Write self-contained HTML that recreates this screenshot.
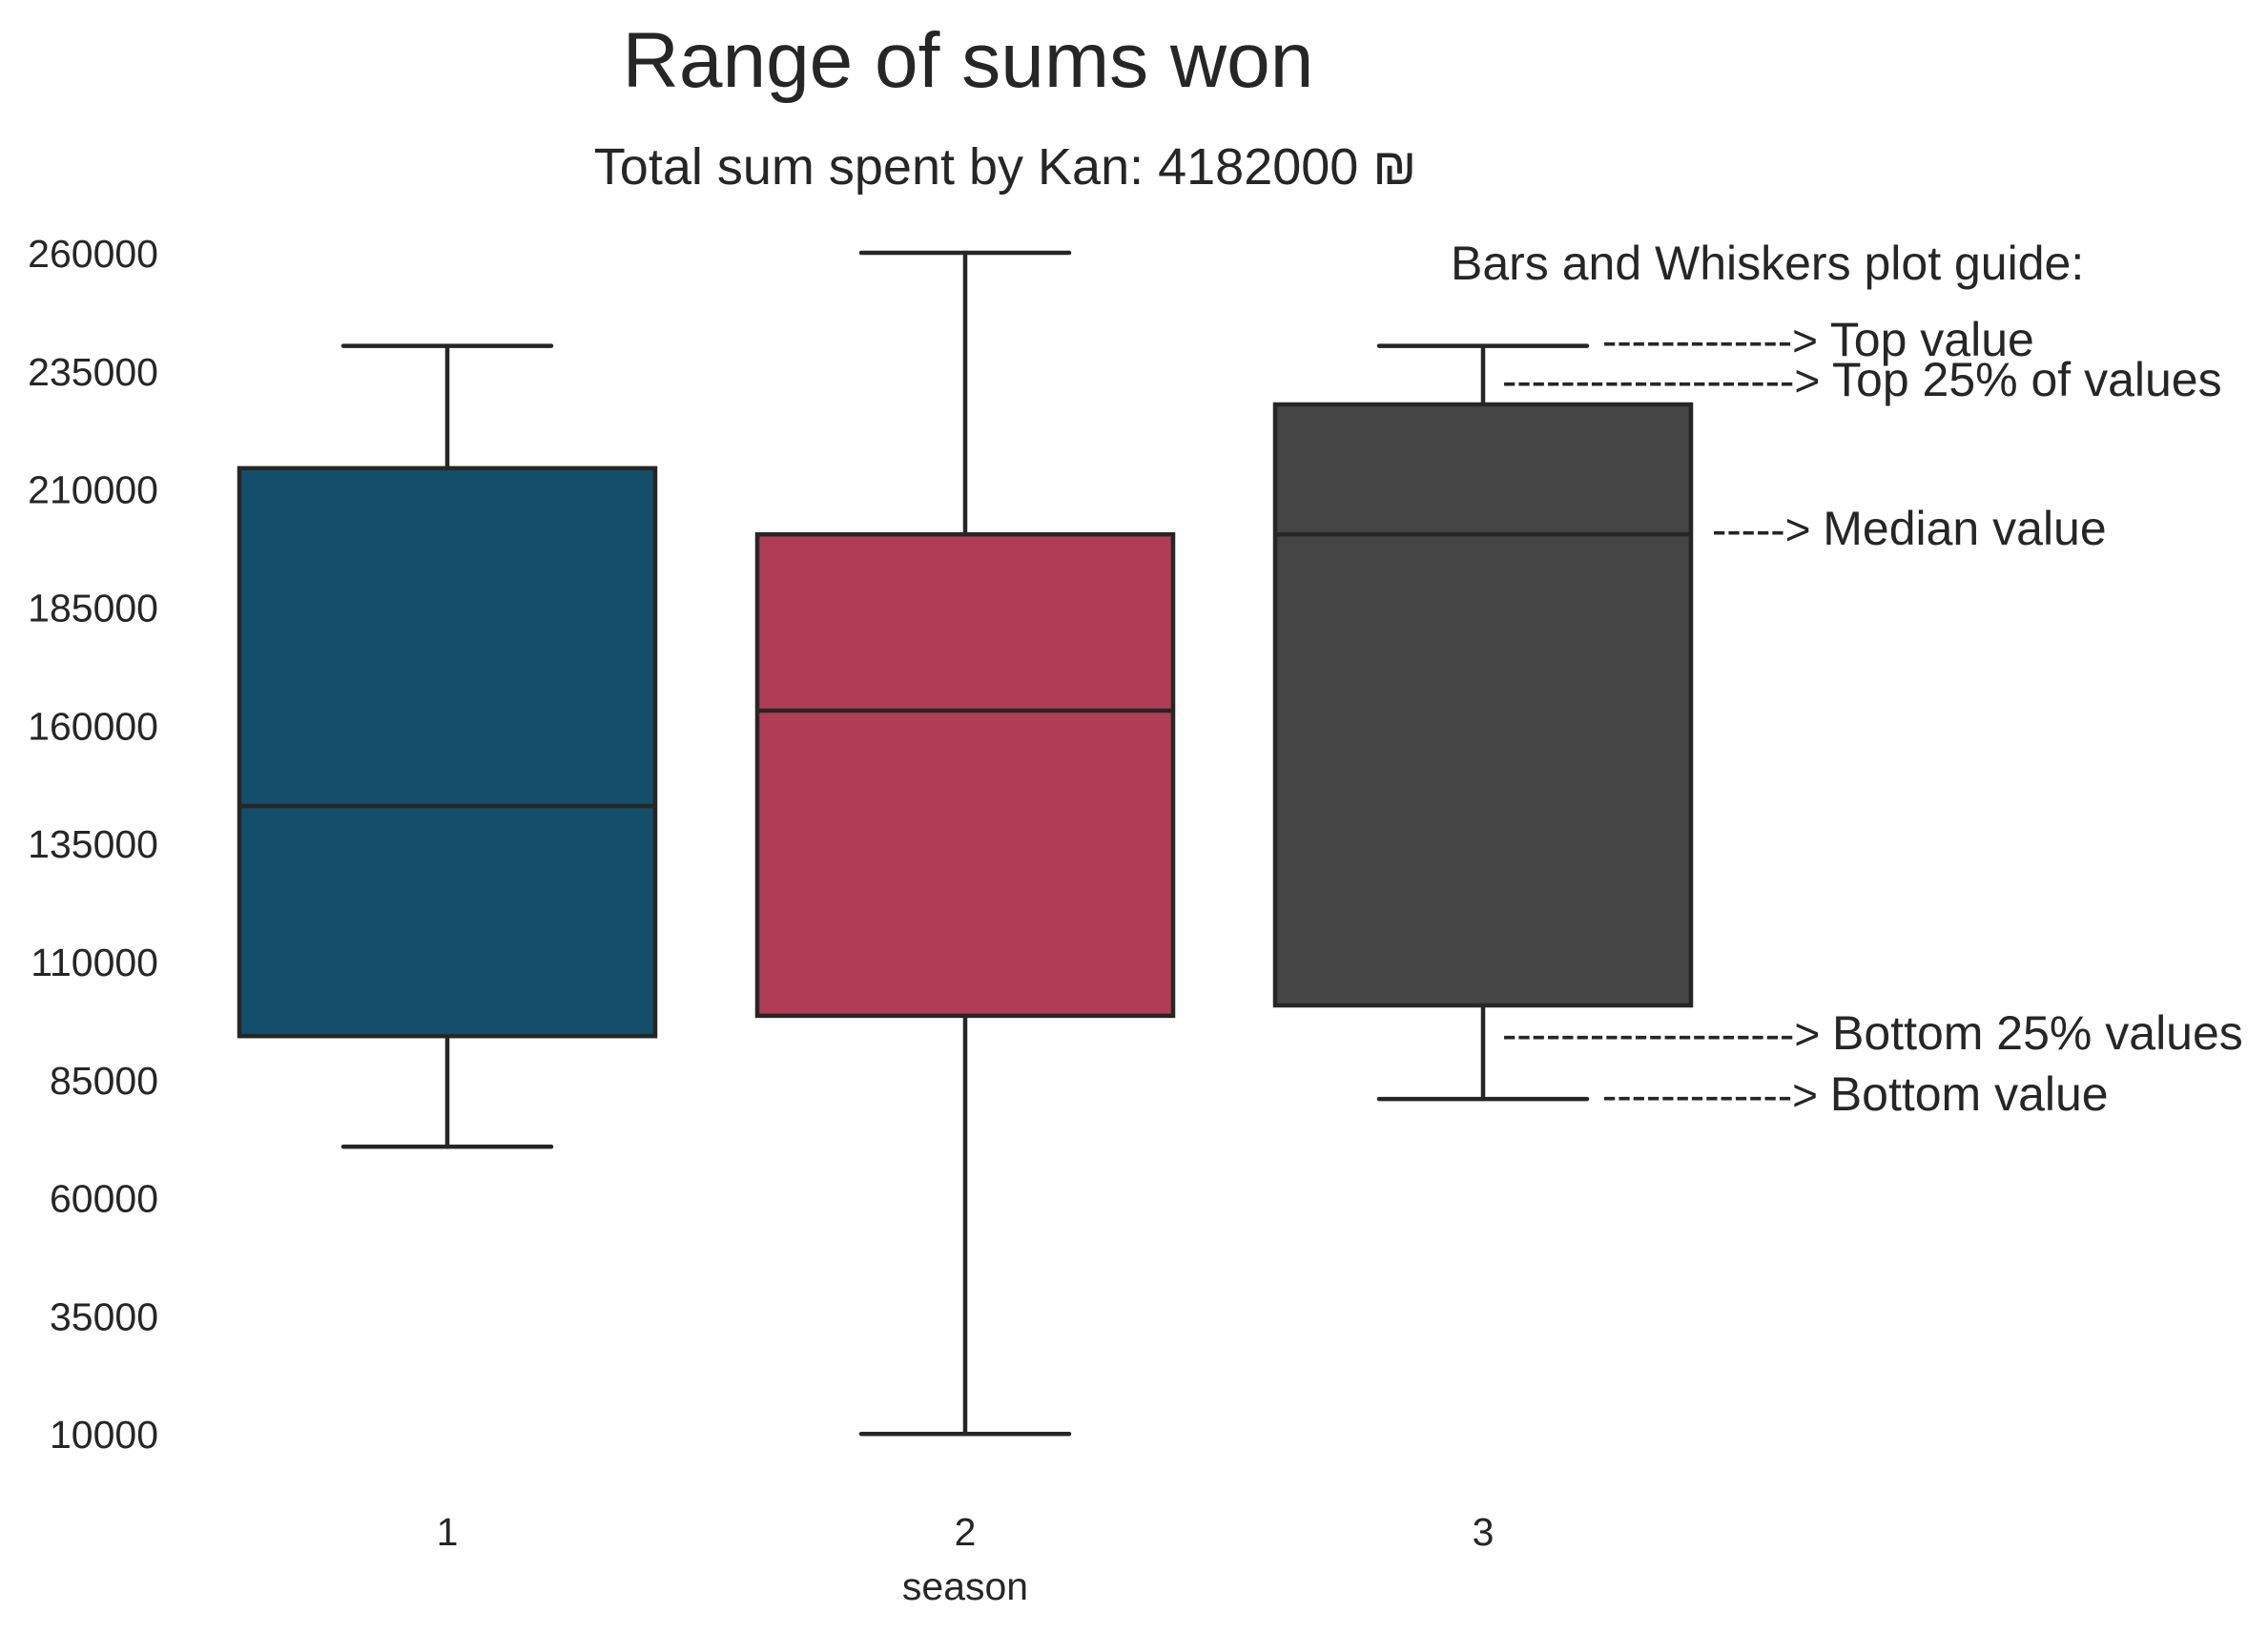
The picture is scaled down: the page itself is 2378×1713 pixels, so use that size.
<!DOCTYPE html>
<html><head><meta charset="utf-8">
<style>
html,body{margin:0;padding:0;background:#fff;}
svg{display:block;font-family:"Liberation Sans","DejaVu Sans",sans-serif;fill:#262626;}
</style></head>
<body>
<svg id="chart" width="2378" height="1713" viewBox="0 0 2378 1713" xmlns="http://www.w3.org/2000/svg">
<rect x="0" y="0" width="2378" height="1713" fill="#fff"/>
<text x="1015" y="91" font-size="82" text-anchor="middle" fill="#262626">Range of sums won</text>
<text x="1054" y="193" font-size="54" text-anchor="middle" fill="#262626">Total sum spent by Kan: 4182000 ₪</text>
<g id="yticks"></g>
<g id="boxes"></g>
<g id="xticks"></g>
<text x="1012" y="1677" font-size="41" text-anchor="middle" fill="#262626">season</text>
<g font-size="50" fill="#262626">
<text x="1521" y="293" font-size="50">Bars and Whiskers plot guide:</text>
<text x="1680" y="373"><tspan font-size="46">-------------&gt; </tspan>Top value</text>
<text x="1575" y="415"><tspan font-size="46">--------------------&gt; </tspan>Top 25% of values</text>
<text x="1795" y="571"><tspan font-size="46">-----&gt; </tspan>Median value</text>
<text x="1575" y="1100"><tspan font-size="46">--------------------&gt; </tspan>Bottom 25% values</text>
<text x="1680" y="1164"><tspan font-size="46">-------------&gt; </tspan>Bottom value</text>
</g>
</svg>
<script>
const categories = ["1", "2", "3"];
const whiskerLow = [70800, 10000, 80900];
const q1Values = [94200, 98500, 100700];
const medianValues = [142900, 163100, 200400];
const q3Values = [214400, 200400, 227900];
const whiskerHigh = [240300, 260000, 240300];
const colors = ["#134E6A", "#B03D55", "#454545"];
const yTicks = [10000, 35000, 60000, 85000, 110000, 135000, 160000, 185000, 210000, 235000, 260000];

const NS = "http://www.w3.org/2000/svg";
function yScale(v){ return 265 + (260000 - v) / 201.9; }
function xScale(i){ return 469 + i * 543; }
const boxW = 436, capW = 218, stroke = "#262626", lw = 4.5;

function mk(tag, attrs, parent){
  const e = document.createElementNS(NS, tag);
  for (const k in attrs) e.setAttribute(k, attrs[k]);
  parent.appendChild(e);
  return e;
}

const yg = document.getElementById("yticks");
yTicks.forEach(t => {
  const el = mk("text", {x: 166, y: yScale(t) + 15, "font-size": 41, "text-anchor": "end"}, yg);
  
  
  el.textContent = t;
});

const xg = document.getElementById("xticks");
categories.forEach((c, i) => {
  const el = mk("text", {x: xScale(i), y: 1620, "font-size": 41, "text-anchor": "middle"}, xg);
  
  
  el.textContent = c;
});

const bg = document.getElementById("boxes");
categories.forEach((c, i) => {
  const cx = xScale(i);
  const g = mk("g", {}, bg);
  
  
  const lineAttrs = {stroke: stroke, "stroke-width": lw, "stroke-linecap": "round"};
  const wu = mk("line", Object.assign({x1: cx, x2: cx, y1: yScale(whiskerHigh[i]), y2: yScale(q3Values[i])}, lineAttrs), g);
  
  
  const wl = mk("line", Object.assign({x1: cx, x2: cx, y1: yScale(q1Values[i]), y2: yScale(whiskerLow[i])}, lineAttrs), g);
  
  
  const cu = mk("line", Object.assign({x1: cx - capW/2, x2: cx + capW/2, y1: yScale(whiskerHigh[i]), y2: yScale(whiskerHigh[i])}, lineAttrs), g);
  
  
  const cl = mk("line", Object.assign({x1: cx - capW/2, x2: cx + capW/2, y1: yScale(whiskerLow[i]), y2: yScale(whiskerLow[i])}, lineAttrs), g);
  
  
  const r = mk("rect", {x: cx - boxW/2, y: yScale(q3Values[i]), width: boxW, height: yScale(q1Values[i]) - yScale(q3Values[i]), fill: colors[i], stroke: stroke, "stroke-width": lw}, g);
  
  
  const m = mk("line", {x1: cx - boxW/2, x2: cx + boxW/2, y1: yScale(medianValues[i]), y2: yScale(medianValues[i]), stroke: stroke, "stroke-width": lw}, g);
  
  
});
</script>
</body></html>
